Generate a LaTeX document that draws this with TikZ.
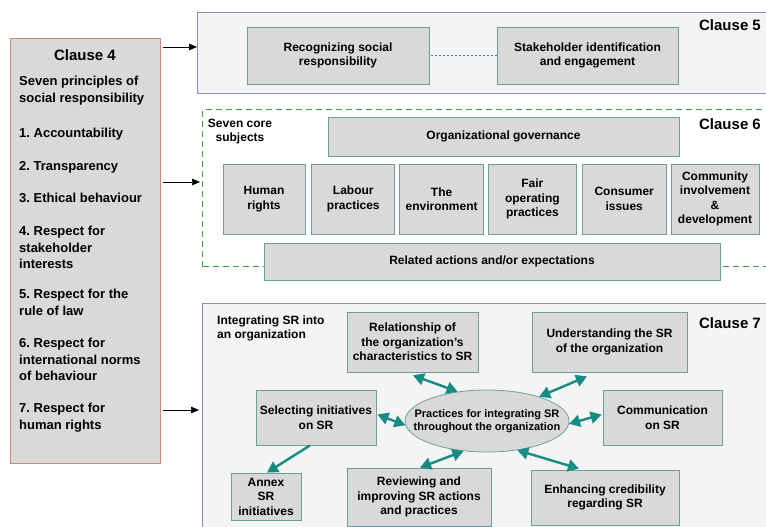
\documentclass[tikz,border=0pt]{standalone}
\usepackage{fontspec}
\setmainfont{Liberation Sans}
\usetikzlibrary{shapes.geometric,arrows.meta,positioning}
\definecolor{boxgray}{HTML}{D9D9D9}
\definecolor{boxline}{HTML}{6E9E9C}
\definecolor{salmon}{HTML}{D08C78}
\definecolor{framepurple}{HTML}{8C8CC0}
\definecolor{framegray}{HTML}{F4F4F4}
\definecolor{dashgreen}{HTML}{3AA03A}
\definecolor{tealarrow}{HTML}{168C84}
\definecolor{dotblue}{HTML}{3F6FB0}
\frenchspacing

\begin{document}
\begin{tikzpicture}[x=1pt,y=-1pt,
  frame/.style={draw=framepurple,fill=framegray,line width=1pt,anchor=north west,inner sep=0pt},
  item/.style={draw=boxline,fill=boxgray,line width=0.8pt,align=center,inner sep=0pt,font=\bfseries\fontsize{12}{14.5}\selectfont},
  clausehead/.style={font=\bfseries\fontsize{15}{18}\selectfont,inner sep=0pt},
  plain/.style={font=\bfseries\fontsize{12}{14}\selectfont,inner sep=0pt},
  principle/.style={anchor=north west,align=left,inner sep=0pt,font=\bfseries\fontsize{13}{16.5}\selectfont},
  feed/.style={-{Triangle[length=8pt,width=6.5pt]},line width=0.7pt},
  link/.style={{Triangle[length=11pt,width=12pt]}-{Triangle[length=11pt,width=12pt]},draw=tealarrow,line width=2.4pt},
  oneway/.style={-{Triangle[length=11pt,width=12pt]},draw=tealarrow,line width=2.4pt}]
\useasboundingbox (0,0) rectangle (766,527);
\clip (0,0) rectangle (766,527);
\fill[white] (0,0) rectangle (766,527);

\node[draw=salmon,fill=boxgray,line width=0.9pt,minimum width=150,minimum height=425,anchor=north west] (c4) at (10,38) {};
\node[clausehead] (c4head) at (85,55) {Clause 4};
\node[principle] (seven) at (19,76) {Seven principles of\\social responsibility};
\node[principle] (acc) at (19,128) {1. Accountability};
\node[principle] (trans) at (19,161) {2. Transparency};
\node[principle] (ethic) at (19,193) {3. Ethical behaviour};
\node[principle] (stake) at (19,226) {4. Respect for\\stakeholder\\interests};
\node[principle] (law) at (19,289) {5. Respect for the\\rule of law};
\node[principle] (norms) at (19,338) {6. Respect for\\international norms\\of behaviour};
\node[principle] (human) at (19,403) {7. Respect for\\human rights};

\node[frame,minimum width=571,minimum height=81] (f5) at (197,12) {};
\node[clausehead] (c5head) at (730,25) {Clause 5};
\node[item,minimum width=182,minimum height=57] (rec) at (338,55.5) {Recognizing social\\responsibility};
\node[item,minimum width=181,minimum height=57] (stk) at (587.5,55.5) {Stakeholder identification\\and engagement};
\draw[dotblue,line width=1.6pt,dash pattern=on 1.6pt off 2.4pt,shorten <=2pt] (rec) -- (stk);

\node[draw=dashgreen,dashed,dash pattern=on 6pt off 4pt,line width=1.2pt,anchor=north west,inner sep=0pt,minimum width=566,minimum height=157] (f6) at (202,109) {};
\node[clausehead] (c6head) at (730,124) {Clause 6};
\node[plain,align=center] (core) at (240,132) {Seven core\\subjects};
\node[item,minimum width=351,minimum height=39] (gov) at (503.5,136.5) {Organizational governance};
\node[item,minimum width=82,minimum height=70] (hr) at (264,199) {Human\\rights};
\node[item,minimum width=83,minimum height=70,right=6pt of hr] (lab) {Labour\\practices};
\node[item,minimum width=84,minimum height=70,right=4pt of lab] (env) {The\\environment};
\node[item,minimum width=88,minimum height=70,right=4pt of env] (fair) {Fair\\operating\\practices};
\node[item,minimum width=84,minimum height=70,right=5pt of fair] (cons) {Consumer\\issues};
\node[item,minimum width=88,minimum height=70,right=4pt of cons] (comm) {Community\\involvement\\\&\\development};
\node[item,minimum width=456,minimum height=37] (rel) at (492,261.5) {Related actions and/or expectations};

\node[frame,minimum width=566,minimum height=227] (f7) at (202,303) {};
\node[clausehead] (c7head) at (730,323) {Clause 7};
\node[plain,anchor=north west,align=left] (integ) at (217,316) {Integrating SR into\\an organization};
\node[ellipse,draw=boxline,fill=boxgray,line width=0.8pt,minimum width=164,minimum height=62,inner sep=0pt,
  label={[font=\bfseries\fontsize{11}{13}\selectfont,align=center]center:Practices for integrating SR\\throughout the organization}] (ell) at (487,421) {};
\node[item,minimum width=131,minimum height=60] (chars) at (412.5,342) {Relationship of\\the organization’s\\characteristics to SR};
\node[item,minimum width=155,minimum height=60] (und) at (609.5,342) {Understanding the SR\\of the organization};
\node[item,minimum width=120,minimum height=55] (sel) at (316,417.5) {Selecting initiatives\\on SR};
\node[item,minimum width=119,minimum height=55] (com) at (662.5,417.5) {Communication\\on SR};
\node[item,minimum width=70,minimum height=47] (ann) at (266,496.5) {Annex\\SR\\initiatives};
\node[item,minimum width=144,minimum height=58] (rev) at (419,497) {Reviewing and\\improving SR actions\\and practices};
\node[item,minimum width=148,minimum height=55] (enh) at (605,497.5) {Enhancing credibility\\regarding SR};

\draw[link] ([shift={(0.5,3)}]chars.south) -- (ell.135);
\draw[link] ([shift={(-22.5,4)}]und.south) -- (ell.25);
\draw[link] ([shift={(1,-3)}]sel.east) -- (ell.183);
\draw[link] (ell.358) -- ([shift={(-1,-3)}]com.west);
\draw[link] ([shift={(1,0)}]rev.north) -- (ell.232);
\draw[link] (ell.316) -- ([shift={(-26,-1)}]enh.north);
\draw[oneway] ([shift={(-6,0)}]sel.south) -- ([shift={(1,0)}]ann.north);

\coordinate (a5) at ([shift={(2,9)}]c4.north east);
\coordinate (a6) at ([shift={(2,144)}]c4.north east);
\coordinate (a7) at ([shift={(2,372)}]c4.north east);
\draw[feed] (a5) -- (a5 -| f5.west);
\draw[feed,shorten >=2pt] (a6) -- (a6 -| f6.west);
\draw[feed,shorten >=3pt] (a7) -- (a7 -| f7.west);
\end{tikzpicture}
\end{document}
